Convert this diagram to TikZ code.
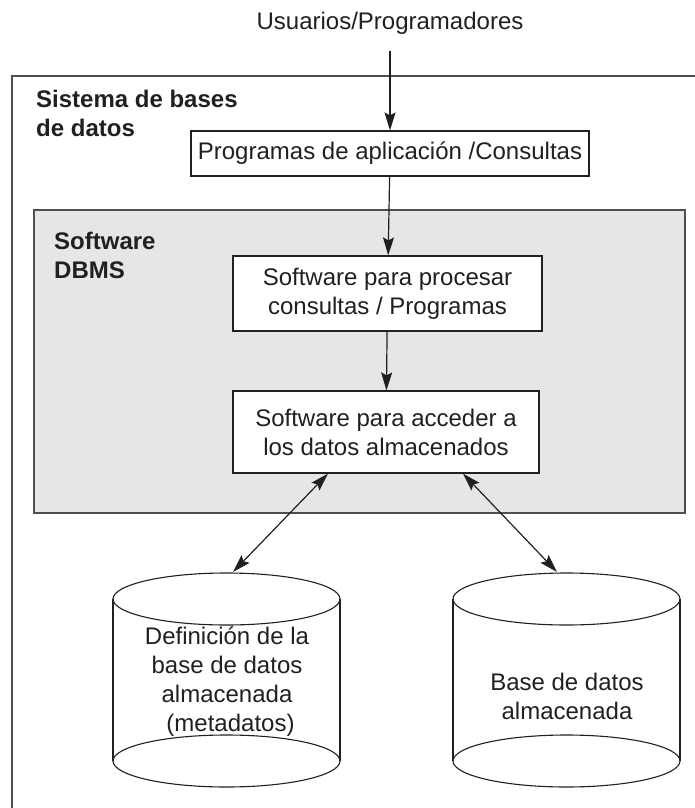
\documentclass[tikz,border=0pt]{standalone}
\usepackage{fontspec}
\setmainfont{Liberation Sans}
\usetikzlibrary{arrows.meta}

\definecolor{ink}{HTML}{231F20}
\definecolor{dbmsfill}{HTML}{E5E6E5}
\definecolor{frame}{HTML}{4F4F4F}

\tikzset{
  box/.style={draw=ink, line width=1.2pt, fill=white, inner sep=0pt, align=center},
  flow/.style={draw=ink, line width=1.2pt, -{Stealth[length=18pt,width=11pt,inset=3pt]}},
  twoway/.style={draw=ink, line width=1.2pt,
    {Stealth[length=18pt,width=11pt,inset=3pt]}-{Stealth[length=18pt,width=11pt,inset=3pt]}},
  tag/.style={font=\fontsize{24}{29}\selectfont\bfseries, align=left, anchor=west, inner sep=0pt},
  dbtext/.style={align=center, inner sep=0pt}
}

\begin{document}
\begin{tikzpicture}[x=1pt, y=-1pt, font=\fontsize{24}{29}\selectfont, text=ink]
  \clip (0,0) rectangle (695,808);
  \useasboundingbox (0,0) rectangle (695,808);

  % outer frame and DBMS area
  \draw[frame, line width=2pt] (12,76) rectangle (720,840);
  \draw[frame, line width=2.2pt, fill=dbmsfill] (34,210) rectangle (685,513);

  \node[anchor=base] (user) at (390,30) {Usuarios/Programadores};
  \node[tag] (sys) at (36,113) {Sistema de bases\\de datos};
  \node[tag] (soft) at (54,255) {Software\\DBMS};

  \node[box, minimum width=398pt, minimum height=45pt] (apps) at (390,153.5)
    {Programas de aplicación /Consultas};
  \node[box, minimum width=309pt, minimum height=75pt] (proc) at (387.5,293.5)
    {Software para procesar\\consultas / Programas};
  \node[box, minimum width=306pt, minimum height=82pt] (acc) at (386,432)
    {Software para acceder a\\los datos almacenados};

  % stored data (cylinders)
  \draw[ink, line width=1.1pt] (113,599) -- (113,761) (340,599) -- (340,761);
  \draw[ink, line width=1.1pt] (226.5,599) ellipse [x radius=113.5, y radius=26];
  \draw[ink, line width=1.1pt] (226.5,761) ellipse [x radius=113.5, y radius=26];
  \draw[ink, line width=1.1pt] (453,599) -- (453,761) (680,599) -- (680,761);
  \draw[ink, line width=1.1pt] (566.5,599) ellipse [x radius=113.5, y radius=26];
  \draw[ink, line width=1.1pt] (566.5,761) ellipse [x radius=113.5, y radius=26];
  \coordinate (metatop) at (233,572);
  \coordinate (datatop) at (557,572);

  \node[dbtext] (meta) at (227,681.5)
    {Definición de la\\base de datos\\almacenada\\\hspace*{7pt}(metadatos)};
  \node[dbtext] (data) at (567,696) {Base de datos\\almacenada};

  \draw[flow] ([yshift=-12pt]user.south) -- (apps);
  \draw[flow] (apps) -- (proc);
  \draw[flow] (proc) -- (acc);
  \draw[twoway] ([xshift=-58pt]acc.south) -- (metatop);
  \draw[twoway] ([xshift=77pt]acc.south) -- (datatop);
\end{tikzpicture}
\end{document}
